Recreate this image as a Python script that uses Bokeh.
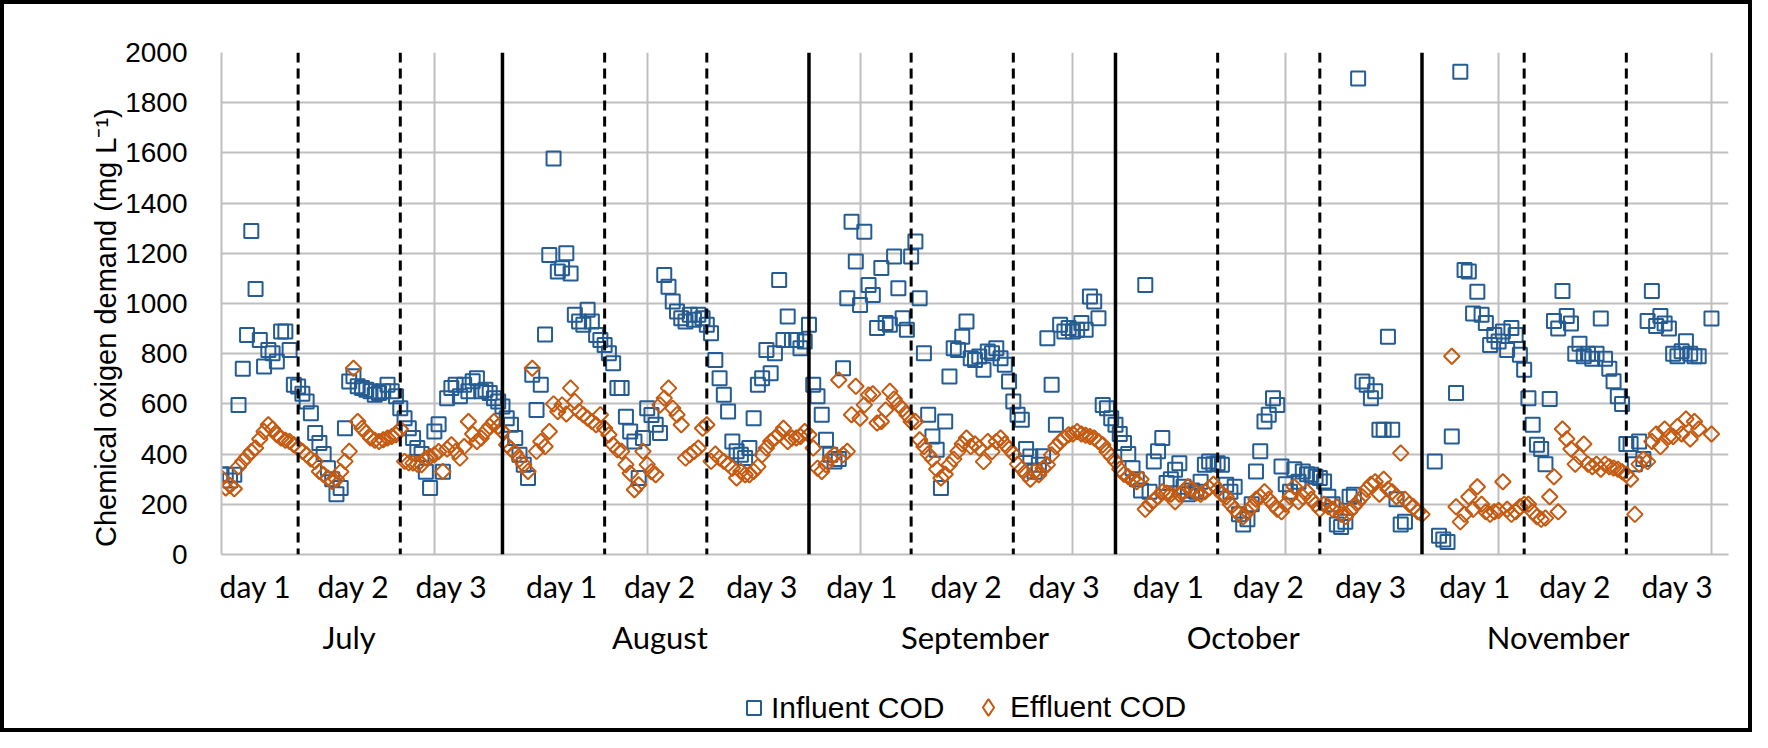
import numpy as np
from bokeh.plotting import figure
from bokeh.layouts import column
from bokeh.models import (Range1d, FixedTicker, LinearAxis, Span, Legend,
                          LegendItem, ColumnDataSource)
from bokeh.embed import file_html
from bokeh.resources import INLINE

# ---------------- data (hourly samples, x = hour index) ----------------
month_start = [0, 67, 139, 211, 283]

inf_jul = [320, 318, 295, 318, 596, 740, 875, 1289, 1058, 855, 749, 815, 802, 769, 888, 888, 815, 676, 669,
           640, 610, 563, 484, 444, 400, 344, 300, 240, 265, 503, 689, 710, 670, 663, 656, 650, 636, 643, 650, 676, 650, 630, 583,
           543, 503, 464, 424, 400, 330, 265, 490, 519, 330, 623, 663, 676, 630, 676, 650, 690, 702, 650, 656, 643, 623, 610, 590]
eff_jul = [305, 265, 275, 262, 350, 371, 390, 410, 424, 460, 490, 517, 500, 477, 464, 455, 450, 437, 424,
           411, 397, 380, 371, 331, 318, 305, 291, 300, 330, 371, 411, 742, 530, 503, 484, 464, 455, 450, 457, 464, 470, 477, 500,
           371, 365, 364, 360, 358, 384, 390, 397, 410, 331, 420, 437, 410, 384, 430, 530, 480, 450, 464, 490, 510, 530, 510, 490]

inf_aug = [543, 517, 464, 397, 358, 305, 716, 576, 676, 876, 1193, 1578, 1127, 1140, 1200, 1120, 955, 928, 915, 975, 928, 875, 855, 835,
           802, 762, 663, 663, 549, 490, 450, 305, 464, 583, 556, 517, 484, 1114, 1067, 1008, 968, 941, 928, 955, 935, 955, 941, 915,
           881, 775, 702, 636, 570, 450, 411, 397, 384, 424, 543, 676, 702, 815, 722, 802, 1094, 855, 948, 855, 855, 822, 849, 915]
eff_aug = [437, 420, 404, 380, 358, 331, 742, 411, 450, 430, 490, 600, 570, 596, 560, 663, 610, 570, 557, 543, 530, 517, 557, 503,
           477, 437, 417, 411, 358, 324, 258, 278, 411, 358, 330, 318, 596, 623, 663, 583, 557, 517, 384, 397, 410, 424, 503, 517,
           371, 400, 384, 371, 360, 344, 305, 331, 318, 318, 331, 350, 397, 424, 450, 464, 480, 503, 450, 464, 464, 470, 490, 477]

inf_sep = [676, 630, 557, 457, 397, 371, 380, 742, 1021, 1326, 1167, 994, 1286, 1074, 1034, 902, 1141, 922, 915, 1187, 1061, 941, 895, 1187,
           1247, 1021, 802, 557, 470, 417, 265, 530, 709, 822, 815, 868, 928, 782, 775, 789, 736, 809, 802, 822, 782, 756, 689, 610,
           557, 537, 420, 390, 330, 358, 391, 862, 676, 517, 915, 888, 902, 888, 895, 922, 895, 1028, 1008, 941, 596, 583, 543, 517]
eff_sep = [424, 344, 331, 358, 384, 397, 695, 397, 411, 557, 670, 543, 596, 636, 640, 524, 530, 576, 650, 620, 596, 580, 557, 530,
           530, 457, 430, 400, 380, 340, 305, 320, 358, 380, 411, 440, 464, 430, 440, 424, 370, 450, 410, 450, 464, 440, 420, 400,
           360, 340, 320, 300, 330, 318, 344, 358, 397, 430, 450, 464, 477, 480, 490, 480, 475, 470, 464, 450, 437, 410, 390, 370]

inf_oct = [480, 444, 400, 344, 300, 255, 1074, 250, 371, 411, 464, 285, 300, 338, 364, 270, 240, 255, 250, 290, 358, 371, 360, 364,
           358, 278, 250, 270, 160, 120, 140, 200, 331, 411, 530, 557, 623, 596, 351, 280, 250, 340, 290, 331, 320, 318, 310, 305,
           291, 230, 200, 120, 110, 130, 230, 238, 1896, 689, 676, 623, 650, 497, 497, 868, 497, 220, 120, 130, None, None, None, None]
eff_oct = [340, 320, 310, 300, 290, 300, 180, 200, 215, 230, 250, 245, 240, 210, 240, 250, 270, 260, 245, 240, 250, 265, 280, 260,
           240, 230, 200, 180, 160, 150, 170, 190, 220, 230, 250, 220, 200, 180, 170, 200, 230, 270, 210, 230, 250, 220, 200, 180,
           200, 190, 180, 190, 160, 150, 170, 190, 210, 230, 260, 280, 290, 240, 300, 260, 250, 230, 404, 220, 200, 190, 170, 160]

inf_nov = [None, None, 371, 75, 60, 50, 470, 643, 1923, 1133, 1127, 960, 1047, 955, 922, 835, 875, 849, 888, 815, 902, 875, 796, 736,
           623, 517, 437, 420, 360, 620, 930, 900, 1050, 950, 920, 800, 840, 790, 800, 780, 800, 940, 780, 740, 690, 630, 600, 440,
           440, 360, 450, 380, 930, 1050, 910, 950, 920, 900, 800, 790, 810, 850, 800, 790, 790, None, None, 940]
eff_nov = [None, None, None, None, None, None, 790, 190, 130, 160, 230, 180, 270, 200, 170, 160, 170, 175, 290, 180, 160, 170, 190, 200,
           200, 170, 150, 140, 145, 230, 310, 170, 500, 460, 420, 360, 390, 440, 360, 350, 360, 340, 360, 350, 345, 340, 330, 320,
           300, 160, 360, 380, 370, 450, 480, 430, 500, 470, 470, 510, 480, 540, 460, 530, 500, None, None, 480]

day_bounds = [18, 42, 90, 114, 162, 186, 234, 258, 306, 330]
month_bounds = [66, 138, 210, 282]
day_label_pos = [8, 31, 54, 80, 103, 127, 150.5, 175, 198, 222.5, 246, 270, 294.5, 318, 342]
day_labels = ["day 1", "day 2", "day 3"] * 5
month_pos = [30, 103, 177, 240, 314]
month_labels = ["July", "August", "September", "October", "November"]
y_ticks = list(range(0, 2001, 200))
x_grid = [50, 100, 150, 200, 250, 300, 350]
series_names = ["Influent COD", "Effluent COD"]


def series(months):
    xs, ys = [], []
    for start, vals in zip(month_start, months):
        for i, v in enumerate(vals):
            xs.append(start + i)
            ys.append(np.nan if v is None else v)
    return xs, ys


xi, yi = series([inf_jul, inf_aug, inf_sep, inf_oct, inf_nov])
xe, ye = series([eff_jul, eff_aug, eff_sep, eff_oct, eff_nov])

BLUE = "#245C93"
ORANGE = "#C55A11"
GRID = "#BFBFBF"
W = 1744
H_MAIN = 654
H_LEG = 70

p = figure(width=W, height=H_MAIN, output_backend="svg", toolbar_location=None,
           x_range=Range1d(0, 354), y_range=Range1d(0, 2000),
           min_border_left=217, min_border_right=20, min_border_top=48, min_border_bottom=103)
p.outline_line_color = None
p.background_fill_color = "white"
p.border_fill_color = "white"

# grids
p.xgrid.ticker = FixedTicker(ticks=x_grid)
p.xgrid.grid_line_color = GRID
p.xgrid.grid_line_width = 2
p.ygrid.ticker = FixedTicker(ticks=y_ticks)
p.ygrid.grid_line_color = GRID
p.ygrid.grid_line_width = 2

# y axis
ya = p.yaxis[0]
ya.ticker = FixedTicker(ticks=y_ticks)
ya.major_tick_line_color = None
ya.minor_tick_line_color = None
ya.axis_line_color = GRID
ya.axis_line_width = 2
ya.major_label_text_font = "Liberation Sans"
ya.major_label_text_font_size = "28px"
ya.major_label_text_color = "black"
ya.major_label_standoff = 28
ya.axis_label = "Chemical oxigen demand (mg L\u207b\u00b9)" + "\u00a0" * 6
ya.axis_label_text_font = "Liberation Sans"
ya.axis_label_text_font_size = "29px"
ya.axis_label_text_font_style = "normal"
ya.axis_label_text_color = "black"
ya.axis_label_standoff = 0

# x axis: day labels
xa = p.xaxis[0]
xa.ticker = FixedTicker(ticks=day_label_pos)
xa.major_label_overrides = {c: l for c, l in zip(day_label_pos, day_labels)}
xa.major_tick_line_color = None
xa.minor_tick_line_color = None
xa.axis_line_color = GRID
xa.axis_line_width = 2
xa.major_label_text_font = "Lato"
xa.major_label_text_font_size = "30px"
xa.major_label_text_color = "black"
xa.major_label_standoff = 7

# second x axis: month labels
ma = LinearAxis(ticker=FixedTicker(ticks=month_pos),
                major_label_overrides={c: l for c, l in zip(month_pos, month_labels)})
ma.axis_line_color = None
ma.major_tick_line_color = None
ma.minor_tick_line_color = None
ma.major_label_text_font = "Lato"
ma.major_label_text_font_size = "31px"
ma.major_label_text_color = "black"
ma.major_label_standoff = 5
p.add_layout(ma, "below")

# data
src_i = ColumnDataSource(dict(x=xi, y=yi))
src_e = ColumnDataSource(dict(x=xe, y=ye))
inf_style = dict(marker="square", size=14, fill_color=None, line_color=BLUE, line_width=2)
eff_style = dict(marker="square", angle=np.pi / 4, size=11, fill_color=None,
                 line_color=ORANGE, line_width=2)
p.scatter("x", "y", source=src_i, **inf_style)
p.scatter("x", "y", source=src_e, **eff_style)

# day / month separators
for b in day_bounds:
    p.add_layout(Span(location=b, dimension="height", line_color="black",
                      line_width=3, line_dash="10 6"))
for b in month_bounds:
    p.add_layout(Span(location=b, dimension="height", line_color="black",
                      line_width=3.5))

# legend strip below the chart (its key renderers hold no visible points)
pl = figure(width=W, height=H_LEG, output_backend="svg", toolbar_location=None,
            x_range=Range1d(0, 1), y_range=Range1d(0, 1),
            min_border_left=0, min_border_right=0, min_border_top=0, min_border_bottom=0,
            x_axis_type=None, y_axis_type=None)
pl.outline_line_color = None
pl.grid.visible = False
pl.background_fill_color = "white"
pl.border_fill_color = "white"
key_src = ColumnDataSource(dict(x=[np.nan], y=[np.nan]))
li = pl.scatter("x", "y", source=key_src, **inf_style)
le = pl.scatter("x", "y", source=key_src, marker="diamond", size=16, fill_color=None,
                line_color=ORANGE, line_width=2)

common = dict(orientation="horizontal", label_text_font="Liberation Sans",
              label_text_font_size="30px", label_text_color="black",
              padding=0, margin=0, border_line_color=None, background_fill_alpha=0)
leg1 = Legend(items=[LegendItem(label=series_names[0], renderers=[li])],
              location=(515, 3), glyph_width=35, glyph_height=35, label_standoff=-2, **common)
leg2 = Legend(items=[LegendItem(label=series_names[1], renderers=[le])],
              location=(746, 0), glyph_width=42, glyph_height=42, label_standoff=1, **common)
pl.add_layout(leg1, "center")
pl.add_layout(leg2, "center")

lay = column(p, pl, spacing=0)
lay.styles = {"border": "4px solid black"}

open("out.html", "w").write(file_html(lay, INLINE))
